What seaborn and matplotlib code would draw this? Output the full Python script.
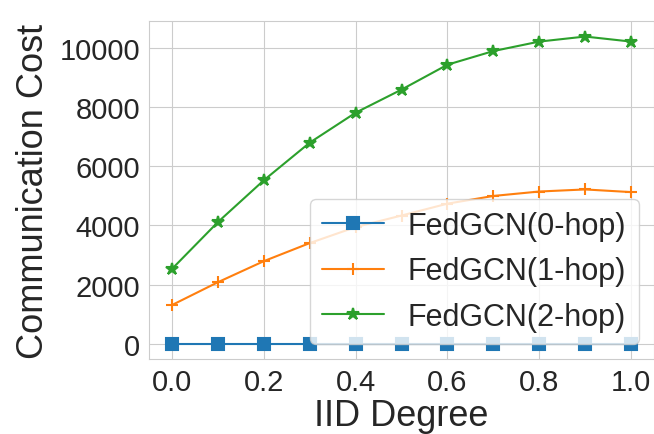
import numpy as np
import pandas as pd
import seaborn as sns
from matplotlib import pyplot as plt

# %%
iid_degree = [0.0, 0.1, 0.2, 0.3, 0.4, 0.5, 0.6, 0.7, 0.8, 0.9, 1.0]
hop0 = [0, 0, 0, 0, 0, 0, 0, 0, 0, 0, 0]
hop1 = [1310, 2080, 2790, 3400, 3940, 4330, 4730, 4990, 5140, 5210, 5120]
hop2 = [2530, 4110, 5520, 6790, 7800, 8580, 9420, 9880, 10200, 10370, 10200]
labels = ['FedGCN(0-hop)', 'FedGCN(1-hop)', 'FedGCN(2-hop)']
markers = ['s', '+', '*']

# %%
sns.set_style('whitegrid')
plt.rcParams['font.family'] = ['Liberation Sans', 'DejaVu Sans']

fig = plt.figure(figsize=(6.54, 4.35), dpi=100)
ax = fig.add_axes([0.228, 0.172, 0.772, 0.777])

palette = sns.color_palette()
for i, vals in enumerate([hop0, hop1, hop2]):
    sns.lineplot(x=iid_degree, y=vals, ax=ax, label=labels[i], color=palette[i],
                 marker=markers[i], markersize=9, markeredgewidth=1.5,
                 markeredgecolor=palette[i], linewidth=1.5)

ax.set_xlabel('IID Degree', fontsize=26, labelpad=1)
ax.set_ylabel('Communication Cost', fontsize=26, labelpad=6)
ax.tick_params(labelsize=21, pad=3)
ax.set_xticks([0.0, 0.2, 0.4, 0.6, 0.8, 1.0])
ax.set_yticks([0, 2000, 4000, 6000, 8000, 10000])
ax.legend(loc='lower right', fontsize=22)

fig.savefig('out.png', dpi=100)
